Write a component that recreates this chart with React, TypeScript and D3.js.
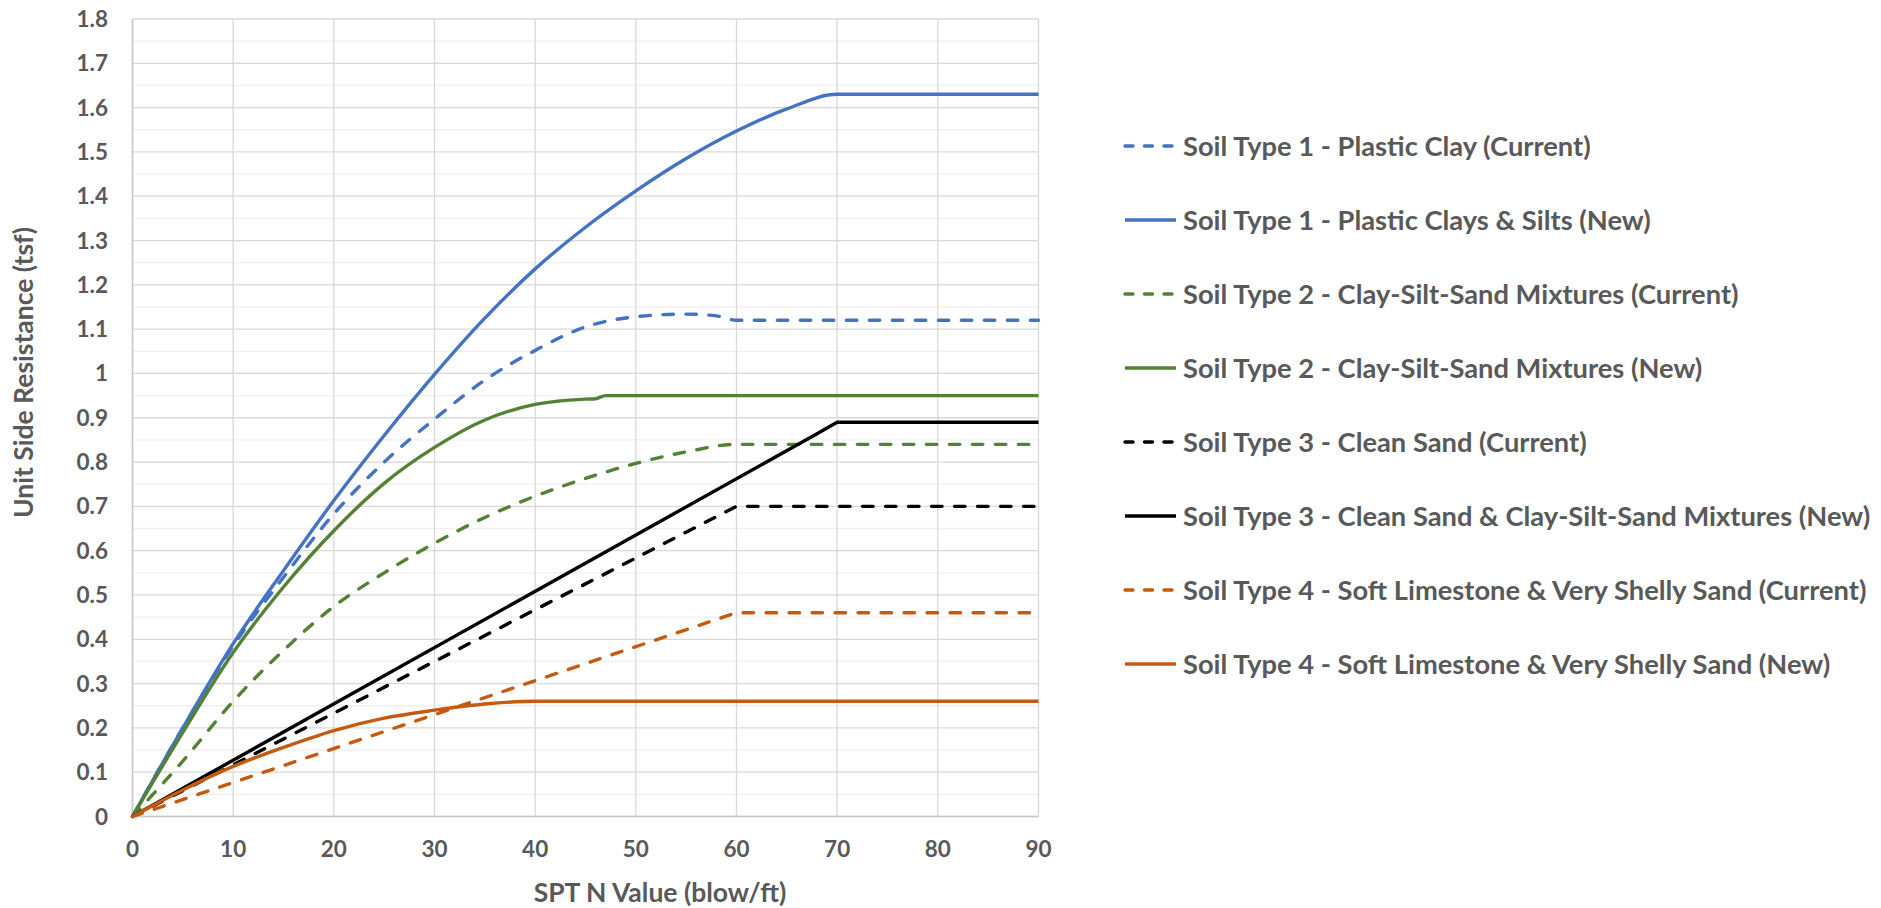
import React from "react";
import * as d3 from "d3";

type Pt = [number, number];

// ---- data (SPT N value, unit side resistance tsf) ----
const type1Current: Pt[] = [[0,0],[5,0.2],[10,0.385],[15,0.54],[20,0.683],[25,0.8],[30,0.897],[35,0.985],[40,1.052],[45,1.105],[50,1.128],[55,1.134],[58,1.13],[60,1.12],[90,1.12]];
const type1New: Pt[] = [[0,0],[5,0.2],[10,0.39],[15,0.555],[20,0.713],[25,0.86],[30,0.998],[35,1.125],[40,1.236],[45,1.33],[50,1.412],[55,1.485],[60,1.547],[65,1.597],[70,1.63],[90,1.63]];
const type2Current: Pt[] = [[0,0],[5,0.125],[10,0.26],[15,0.375],[20,0.474],[25,0.55],[30,0.617],[35,0.675],[40,0.723],[45,0.763],[50,0.797],[55,0.823],[60,0.84],[90,0.84]];
const type2New: Pt[] = [[0,0],[5,0.19],[10,0.37],[15,0.518],[20,0.645],[25,0.752],[30,0.833],[35,0.895],[40,0.93],[45,0.942],[46,0.943],[47,0.95],[90,0.95]];
const type3Current: Pt[] = [[0,0],[60,0.7],[90,0.7]];
const type3New: Pt[] = [[0,0],[68,0.864],[69,0.877],[70,0.89],[90,0.89]];
const type4Current: Pt[] = [[0,0],[60,0.46],[90,0.46]];
const type4New: Pt[] = [[0,0],[5,0.06],[10,0.113],[15,0.156],[20,0.194],[25,0.222],[30,0.24],[35,0.254],[40,0.26],[90,0.26]];

const seriesNames = [
  "Soil Type 1 - Plastic Clay (Current)",
  "Soil Type 1 - Plastic Clays & Silts (New)",
  "Soil Type 2 - Clay-Silt-Sand Mixtures (Current)",
  "Soil Type 2 - Clay-Silt-Sand Mixtures (New)",
  "Soil Type 3 - Clean Sand (Current)",
  "Soil Type 3 - Clean Sand & Clay-Silt-Sand Mixtures (New)",
  "Soil Type 4 - Soft Limestone & Very Shelly Sand (Current)",
  "Soil Type 4 - Soft Limestone & Very Shelly Sand (New)",
];
const seriesData = [type1Current, type1New, type2Current, type2New, type3Current, type3New, type4Current, type4New];
const seriesColors = ["#4472C4", "#4472C4", "#548235", "#548235", "#000000", "#000000", "#C55A11", "#C55A11"];
const seriesDashed = [true, false, true, false, true, false, true, false];
const seriesSmooth = [true, true, true, true, false, false, false, true];

const xTicks = [0, 10, 20, 30, 40, 50, 60, 70, 80, 90];
const yTicks = [0, 0.1, 0.2, 0.3, 0.4, 0.5, 0.6, 0.7, 0.8, 0.9, 1, 1.1, 1.2, 1.3, 1.4, 1.5, 1.6, 1.7, 1.8];
const yMinorTicks = [0.05, 0.15, 0.25, 0.35, 0.45, 0.55, 0.65, 0.75, 0.85, 0.95, 1.05, 1.15, 1.25, 1.35, 1.45, 1.55, 1.65, 1.75];

const xTitle = "SPT N Value (blow/ft)";
const yTitle = "Unit Side Resistance (tsf)";

const W = 1881, H = 908;
const PL = 132.5, PR = 1038.5, PT = 19, PB = 816.5;
const FONT = "Lato, 'Open Sans', sans-serif";
const TXT = "#595959";

export default function App() {
  const x = d3.scaleLinear().domain([0, 90]).range([PL, PR]);
  const y = d3.scaleLinear().domain([0, 1.8]).range([PB, PT]);
  const smooth = d3.line<Pt>().x(d => x(d[0])).y(d => y(d[1])).curve(d3.curveMonotoneX);
  const straight = d3.line<Pt>().x(d => x(d[0])).y(d => y(d[1])).curve(d3.curveLinear);

  const legX0 = 1123, legX1 = 1178, legTextX = 1183, legY0 = 146, legStep = 74;

  return (
    <svg width={W} height={H} style={{ position: "absolute", left: 0, top: 0, background: "#fff" }}>
      <rect x={0} y={0} width={W} height={H} fill="#fff" />
      {/* minor gridlines */}
      {yMinorTicks.map(t => (
        <line key={"m" + t} x1={PL} x2={PR} y1={y(t)} y2={y(t)} stroke="#f0f0f0" strokeWidth={1.3} />
      ))}
      {/* major gridlines */}
      {yTicks.map(t => (
        <line key={"gy" + t} x1={PL} x2={PR} y1={y(t)} y2={y(t)} stroke="#d9d9d9" strokeWidth={1.3} />
      ))}
      {xTicks.map(t => (
        <line key={"gx" + t} x1={x(t)} x2={x(t)} y1={PT} y2={PB} stroke="#d9d9d9" strokeWidth={1.3} />
      ))}
      {/* axes */}
      <line x1={PL} x2={PL} y1={PT} y2={PB} stroke="#c8c8c8" strokeWidth={1.5} />
      <line x1={PL} x2={PR} y1={PB} y2={PB} stroke="#c8c8c8" strokeWidth={1.5} />

      {/* series */}
      {seriesData.map((d, i) => (
        <path key={"s" + i} d={(seriesSmooth[i] ? smooth(d) : straight(d)) || ""} fill="none" stroke={seriesColors[i]} strokeWidth={3.4}
          strokeDasharray={seriesDashed[i] ? "10.5 12.5" : undefined} strokeLinecap={seriesDashed[i] ? "round" : "butt"} strokeLinejoin="round" />
      ))}

      {/* tick labels */}
      {yTicks.map(t => (
        <text key={"ty" + t} x={108} y={y(t) + 8} textAnchor="end" fontFamily={FONT} fontWeight={700} fontSize={22.5} fill={TXT}>
          {String(+t.toFixed(1))}
        </text>
      ))}
      {xTicks.map(t => (
        <text key={"tx" + t} x={x(t)} y={857} textAnchor="middle" fontFamily={FONT} fontWeight={700} fontSize={22.5} fill={TXT}>
          {t}
        </text>
      ))}

      {/* axis titles */}
      <text x={660} y={902} textAnchor="middle" fontFamily={FONT} fontWeight={700} fontSize={26.5} fill={TXT}>{xTitle}</text>
      <text transform={`translate(33,372.5) rotate(-90)`} textAnchor="middle" fontFamily={FONT} fontWeight={700} fontSize={26.5} fill={TXT}>{yTitle}</text>

      {/* legend */}
      {seriesNames.map((name, i) => {
        const ly = legY0 + i * legStep;
        return (
          <g key={"l" + i}>
            <line x1={legX0 + 2} x2={legX1 - 2} y1={ly} y2={ly} stroke={seriesColors[i]} strokeWidth={3.4}
              strokeDasharray={seriesDashed[i] ? "8 11.5" : undefined} strokeLinecap={seriesDashed[i] ? "round" : "butt"} />
            <text x={legTextX} y={ly + 9.5} fontFamily={FONT} fontWeight={700} fontSize={27.3} fill={TXT}>{name}</text>
          </g>
        );
      })}
    </svg>
  );
}
